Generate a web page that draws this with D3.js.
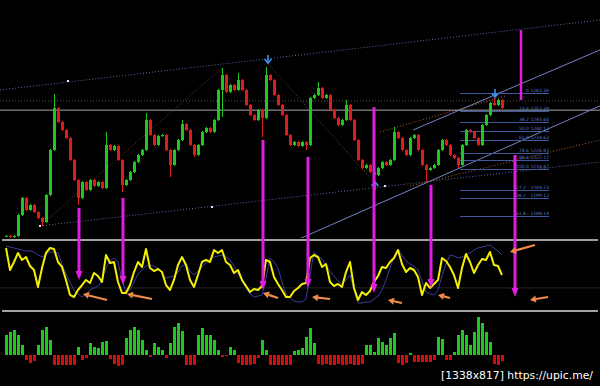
<!DOCTYPE html>
<html>
<head>
<meta charset="UTF-8">
<style>
  body { margin: 0; background: #000; }
  svg { display: block; background: #000; }
  .fib text { font: 4.5px "DejaVu Sans", sans-serif; fill: #5a78c8; }
  .mark { font: 11px "DejaVu Sans", sans-serif; fill: #fff; }
</style>
</head>
<body>
<svg></svg>
<script src="https://d3js.org/d3.v7.min.js"></script>
<script>

let width = 600, height = 386;

// closing price of every bar (open = previous close)
const closes = [
  1175.7, 1175.1, 1175.7, 1188.6, 1199.1, 1191.7, 1194.8, 1190.5, 1186.8, 1184.3,
  1200.9, 1228.6, 1254.4, 1245.8, 1240.8, 1235.9, 1222.4, 1210.1, 1199.1, 1208.9,
  1204.0, 1210.1, 1206.4, 1208.9, 1205.2, 1231.6, 1228.6, 1231.0, 1222.4, 1207.1,
  1210.1, 1215.0, 1221.2, 1225.5, 1228.6, 1247.0, 1237.8, 1231.6, 1237.2, 1237.8,
  1228.6, 1219.3, 1228.6, 1234.7, 1244.5, 1240.8, 1231.6, 1225.5, 1231.6, 1239.6,
  1242.1, 1239.6, 1247.0, 1265.4, 1274.6, 1264.2, 1268.5, 1265.4, 1271.6, 1265.4,
  1256.2, 1250.1, 1247.0, 1253.1, 1248.2, 1274.6, 1271.6, 1262.3, 1256.2, 1250.1,
  1237.8, 1231.6, 1233.5, 1231.0, 1233.5, 1231.6, 1260.5, 1262.3, 1266.6, 1260.5,
  1262.3, 1253.1, 1248.2, 1243.9, 1247.0, 1256.2, 1247.0, 1234.7, 1222.4, 1217.5,
  1219.3, 1215.0, 1213.2, 1217.5, 1221.2, 1219.3, 1222.4, 1239.6, 1235.9, 1228.6,
  1225.5, 1235.9, 1237.8, 1228.6, 1219.3, 1216.3, 1217.5, 1219.3, 1228.6, 1234.7,
  1231.6, 1225.5, 1223.6, 1219.3, 1231.6, 1240.8, 1239.6, 1235.9, 1231.6, 1243.9,
  1250.1, 1257.4, 1256.2, 1259.3, 1254.4
];

// bars with a long shadow: [bar, price]
const longWicks = [
  [9, 1181.9], [12, 1263.0], [18, 1194.8], [25, 1239.6], [29, 1202.8], [35, 1251.3],
  [41, 1212.0], [44, 1247.0], [47, 1224.3], [54, 1278.9], [54, 1248.8], [58, 1275.9],
  [64, 1236.5], [65, 1279.5], [75, 1228.6], [78, 1270.3], [85, 1259.3], [92, 1210.1],
  [97, 1242.7], [105, 1208.9], [113, 1217.5], [122, 1260.5]
];

// oscillator (0..100), main and signal
const oscMain = [
  90.0, 58.6, 70.0, 82.9, 72.9, 77.1, 64.3, 58.6, 34.3, 61.4,
  82.9, 90.0, 88.6, 70.0, 62.9, 44.3, 22.9, 20.0, 30.0, 37.1,
  44.3, 40.0, 54.3, 50.0, 41.4, 80.0, 68.6, 70.0, 41.4, 25.7,
  25.7, 37.1, 55.7, 70.0, 62.9, 88.6, 61.4, 57.1, 60.0, 55.7,
  37.1, 30.0, 44.3, 65.7, 77.1, 65.7, 44.3, 34.3, 51.4, 70.0,
  72.9, 70.0, 87.1, 82.9, 87.1, 70.0, 65.7, 54.3, 58.6, 44.3,
  35.7, 27.1, 31.4, 30.0, 35.7, 72.9, 70.0, 48.6, 38.6, 30.0,
  20.0, 20.0, 28.6, 32.9, 38.6, 40.0, 75.7, 80.0, 77.1, 62.9,
  67.1, 41.4, 35.7, 38.6, 34.3, 55.7, 70.0, 32.9, 15.7, 27.1,
  22.9, 28.6, 41.4, 50.0, 62.9, 61.4, 70.0, 75.7, 87.1, 67.1,
  55.7, 61.4, 58.6, 48.6, 22.9, 40.0, 32.9, 38.6, 44.3, 75.7,
  71.4, 62.9, 51.4, 32.9, 61.4, 81.4, 70.0, 54.3, 65.7, 74.3,
  72.9, 84.3, 65.7, 64.3, 51.4
];
const oscSignal = [
  92.9, 91.4, 90.0, 88.6, 87.1, 85.7, 85.7, 84.3, 80.0, 77.1,
  80.0, 84.3, 84.3, 82.9, 67.1, 52.9, 41.4, 30.0, 24.3, 20.0,
  24.3, 30.0, 32.9, 35.7, 44.3, 61.4, 71.4, 75.7, 70.0, 44.3,
  27.1, 30.0, 41.4, 52.9, 58.6, 64.3, 65.7, 64.3, 61.4, 54.3,
  47.1, 48.6, 50.0, 55.7, 64.3, 67.1, 57.1, 51.4, 57.1, 62.9,
  68.6, 74.3, 77.1, 78.6, 80.0, 77.1, 72.9, 64.3, 54.3, 42.9,
  32.9, 24.3, 20.0, 21.4, 22.9, 47.1, 75.7, 70.0, 61.4, 41.4,
  24.3, 18.6, 14.3, 12.9, 12.9, 17.1, 51.4, 84.3, 78.6, 74.3,
  65.7, 57.1, 50.0, 42.9, 38.6, 44.3, 51.4, 30.0, 11.4, 11.4,
  12.9, 12.9, 17.1, 21.4, 30.0, 44.3, 61.4, 77.1, 88.6, 80.0,
  71.4, 67.1, 64.3, 58.6, 42.9, 27.1, 24.3, 22.9, 30.0, 50.0,
  67.1, 80.0, 78.6, 75.7, 77.1, 80.0, 82.9, 87.1, 90.0, 91.4,
  92.9, 94.3, 90.0, 85.7, 80.0
];
const oscLevel = 33;

// histogram
const hist = [
  2.0, 2.3, 2.5, 2.0, 1.0, -0.5, -0.8, -0.6, 1.0, 2.5,
  2.8, 1.5, -1.0, -1.0, -1.0, -1.0, -1.0, -1.0, 0.8, -0.5,
  -0.3, 1.2, 0.8, 0.7, 1.3, 1.4, -0.4, -0.9, -1.1, -1.0,
  1.7, 2.5, 2.8, 2.5, 1.5, 0.5, -0.2, 1.2, 0.8, 0.5,
  -0.3, 1.2, 2.8, 3.2, 2.4, -1.0, -1.0, -1.0, 2.0, 2.7,
  2.0, 2.0, 1.5, 0.5, -0.2, -0.1, 0.8, 0.5, -0.8, -1.0,
  -1.0, -1.0, -0.9, -0.3, 1.5, 0.5, -1.0, -1.0, -1.0, -1.0,
  -1.0, -1.0, 0.4, 0.5, 0.7, 1.8, 2.7, 1.2, -0.9, -1.0,
  -0.9, -1.0, -1.0, -0.9, -1.0, -1.0, -0.9, -1.0, -1.0, -0.9,
  1.0, 1.0, 0.3, 1.7, 1.3, 1.0, 1.7, 2.2, -0.8, -1.0,
  -0.8, 0.2, -0.7, -0.7, -0.7, -0.7, -0.7, -0.5, 1.8, 1.6,
  -0.5, -0.5, 0.3, 2.0, 2.5, 2.0, 1.0, 2.3, 3.8, 3.2,
  2.3, 1.3, -0.9, -1.0, -0.6
];

// fibonacci retracement
const fibLevels = [0, 23.6, 38.2, 50.0, 61.8, 78.6, 88.6, 100.0, 127.2, 138.2, 161.8];
const fibPrices = [1263.36, 1252.39, 1245.60, 1240.12, 1234.63, 1226.82, 1222.17, 1216.87, 1204.23, 1199.12, 1188.14];
const fibSpan = [113.5, 135.75];

// drawn objects, [bar, price]
const channelTop = [[-1.5, 1265.4], [148.5, 1308.4]];
const channelBottom = [[8.5, 1181.9], [148.5, 1221.2]];
const zigzagA = [[8.5, 1181.9], [54, 1278.9]];
const zigzagB = [[65.5, 1281.4], [92, 1208.9]];
const orangeTop = [[93.5, 1239.6], [124.75, 1261.7]];
const orangeBottom = [[101, 1206.4], [148.5, 1234.7]];
const blueTop = [[101.75, 1240.8], [148.5, 1290.0]];
const blueBottom = [[72.75, 1173.3], [148.5, 1255.6]];
const whiteDots = [[15.5, 1270.9], [8.5, 1181.9], [51.5, 1193.5], [94.75, 1206.4]];
const bidPrice = 1253.0;
const dottedPrice = 1258.6;

// signal arrows
const blueArrows = [[65.5, 1282.0, "down"], [92.25, 1208.9, "up"], [122.25, 1261.1, "down"]];
const magentaBars = [18.25, 29.25, 64.25, 75.5, 92, 106.25, 127.25];
const magentaFrom = [1193.0, 1199.1, 1234.7, 1224.3, 1254.9, 1207.1, 1225.5];
const magentaTo = [44.3, 37.1, 30.0, 32.9, 25.7, 32.9, 20.0];
const magentaTop = [128.75, 1302.2, 1259.2];
const orangeTail = [[25.25, 15.7], [36.5, 17.1], [68, 18.6], [81, 17.1], [99, 11.4], [111, 18.6], [132.25, 94.3], [135.5, 20.0]];
const orangeHead = [[19.25, 24.3], [30.25, 24.3], [64.25, 25.7], [76.5, 20.0], [95.5, 15.7], [108, 22.9], [126, 84.3], [131, 15.7]];

let svg = d3.select("svg")
  .attr("width", width)
  .attr("height", height);

let x = d3.scaleLinear().domain([0, closes.length - 1]).range([6, 502]);
let y = d3.scaleLinear().domain([fibPrices[7], fibPrices[0]]).range([169, 93.3]);
let yo = d3.scaleLinear().domain([0, 100]).range([311, 241]);
let yh = d3.scaleLinear().domain([-1.2, 3.6]).range([367, 319]);

svg.append("defs").append("clipPath").attr("id", "pclip")
  .append("rect").attr("x", 0).attr("y", 0).attr("width", width).attr("height", 238);

let price = svg.append("g").attr("clip-path", "url(#pclip)");

// horizontal levels
price.append("line")
  .attr("x1", 0).attr("x2", width)
  .attr("y1", y(dottedPrice)).attr("y2", y(dottedPrice))
  .attr("stroke", "#5a5a5a").attr("stroke-dasharray", "1,2");
price.append("line")
  .attr("x1", 0).attr("x2", width)
  .attr("y1", y(bidPrice)).attr("y2", y(bidPrice))
  .attr("stroke", "#a8a8a8").attr("stroke-width", 1);

function seg(pts, color, dash, w) {
  price.append("line")
    .attr("x1", x(pts[0][0])).attr("y1", y(pts[0][1]))
    .attr("x2", x(pts[1][0])).attr("y2", y(pts[1][1]))
    .attr("stroke", color)
    .attr("stroke-width", w || 1)
    .attr("stroke-dasharray", dash);
}
seg(channelTop, "#5c6aa8", "1,2");
seg(channelBottom, "#5c6aa8", "1,2");
seg(zigzagA, "#6e4a2e", "1,2");
seg(zigzagB, "#6e4a2e", "1,2");
seg(orangeTop, "#b8642a", "1,2");
seg(orangeBottom, "#b8642a", "1,2");
seg(blueTop, "#7482c4", null);
seg(blueBottom, "#7482c4", null);

// fibonacci
let fib = price.append("g").attr("class", "fib");
fib.selectAll("line")
  .data(fibPrices)
  .enter().append("line")
  .attr("x1", x(fibSpan[0])).attr("x2", x(fibSpan[1]))
  .attr("y1", d => Math.round(y(d)) + 0.5).attr("y2", d => Math.round(y(d)) + 0.5)
  .attr("stroke", "#3f5a9c");
fib.selectAll("text")
  .data(fibPrices)
  .enter().append("text")
  .attr("x", x(fibSpan[1]))
  .attr("y", d => Math.round(y(d)) - 1)
  .attr("text-anchor", "end")
  .text((d, i) => fibLevels[i] > 100
    ? fibLevels[i].toFixed(1) + " - " + d.toFixed(2)
    : (fibLevels[i] === 0 ? "0" : fibLevels[i].toFixed(1)) + "  " + d.toFixed(2));

// candles
let candles = closes.map((c, i) => {
  let o = i ? closes[i - 1] : c;
  let hi = Math.max(o, c) + 0.8, lo = Math.min(o, c) - 0.8;
  longWicks.filter(w => w[0] === i).forEach(w => {
    if (w[1] > hi) hi = w[1];
    if (w[1] < lo) lo = w[1];
  });
  return { i: i, o: o, c: c, hi: hi, lo: lo, up: c >= o };
});

let cg = price.append("g").attr("shape-rendering", "crispEdges");
cg.selectAll("line")
  .data(candles)
  .enter().append("line")
  .attr("x1", d => Math.round(x(d.i)) + 0.5).attr("x2", d => Math.round(x(d.i)) + 0.5)
  .attr("y1", d => y(d.hi)).attr("y2", d => y(d.lo))
  .attr("stroke", d => d.up ? "#22c622" : "#dc1e1e");
cg.selectAll("rect")
  .data(candles)
  .enter().append("rect")
  .attr("x", d => Math.round(x(d.i)) - 1)
  .attr("width", 3)
  .attr("y", d => y(Math.max(d.o, d.c)))
  .attr("height", d => Math.max(1, Math.abs(y(d.o) - y(d.c))))
  .attr("fill", d => d.up ? "#22c622" : "#dc1e1e");

// white anchor dots
price.selectAll(".dot")
  .data(whiteDots)
  .enter().append("rect")
  .attr("class", "dot")
  .attr("x", d => x(d[0]) - 1).attr("y", d => y(d[1]) - 1)
  .attr("width", 2).attr("height", 2)
  .attr("fill", "#e8e8e8");

// blue fractal arrows
price.selectAll(".barrow")
  .data(blueArrows)
  .enter().append("path")
  .attr("class", "barrow")
  .attr("d", d => {
    let px = x(d[0]), py = y(d[1]), s = d[2] === "down" ? -1 : 1;
    return "M" + (px - 3.5) + "," + (py + s * 4) + "L" + px + "," + py + "L" + (px + 3.5) + "," + (py + s * 4) +
      "M" + px + "," + py + "L" + px + "," + (py + s * 8);
  })
  .attr("fill", "none")
  .attr("stroke", "#3b93ea")
  .attr("stroke-width", 1.6);

// panel separators
[yo(100) - 1, yo(0)].forEach(v => {
  svg.append("line")
    .attr("x1", 2).attr("x2", width - 2)
    .attr("y1", v).attr("y2", v)
    .attr("stroke", "#a0a0a0").attr("stroke-width", 2);
});

// oscillator
svg.append("line")
  .attr("x1", 0).attr("x2", width)
  .attr("y1", yo(oscLevel)).attr("y2", yo(oscLevel))
  .attr("stroke", "#262626");

let oscLine = d3.line().x((d, i) => x(i)).y(d => yo(d));
svg.append("path")
  .attr("d", oscLine(oscSignal))
  .attr("fill", "none")
  .attr("stroke", "#3c3c9c")
  .attr("stroke-width", 1);
svg.append("path")
  .attr("d", oscLine(oscMain))
  .attr("fill", "none")
  .attr("stroke", "#f5f000")
  .attr("stroke-width", 2)
  .attr("stroke-linejoin", "round");

// histogram
svg.append("g").attr("shape-rendering", "crispEdges")
  .selectAll("rect")
  .data(hist)
  .enter().append("rect")
  .attr("x", (d, i) => Math.round(x(i)) - 1)
  .attr("width", 3)
  .attr("y", d => d > 0 ? yh(d) : yh(0))
  .attr("height", d => Math.abs(yh(d) - yh(0)))
  .attr("fill", d => d > 0 ? "#1ec81e" : "#d40c0c");

// magenta arrows
let mg = svg.append("g");
mg.append("line")
  .attr("x1", x(magentaTop[0])).attr("x2", x(magentaTop[0]))
  .attr("y1", y(magentaTop[1])).attr("y2", y(magentaTop[2]))
  .attr("stroke", "#e01ee0").attr("stroke-width", 2.5);
magentaBars.forEach((b, i) => {
  let px = x(b), tip = yo(magentaTo[i]);
  mg.append("line")
    .attr("x1", px).attr("x2", px)
    .attr("y1", y(magentaFrom[i])).attr("y2", tip - 6)
    .attr("stroke", "#e01ee0").attr("stroke-width", 3);
  mg.append("path")
    .attr("d", "M" + (px - 3.5) + "," + (tip - 9) + "L" + (px + 3.5) + "," + (tip - 9) + "L" + px + "," + tip + "Z")
    .attr("fill", "#e01ee0");
});

// orange arrows
let og = svg.append("g");
orangeTail.forEach((t, i) => {
  let h = orangeHead[i];
  let x0 = x(t[0]), y0 = yo(t[1]), x1 = x(h[0]), y1 = yo(h[1]);
  let a = Math.atan2(y1 - y0, x1 - x0);
  let bx = x1 - 6 * Math.cos(a), by = y1 - 6 * Math.sin(a);
  og.append("line")
    .attr("x1", x0).attr("y1", y0).attr("x2", bx).attr("y2", by)
    .attr("stroke", "#f08a4a").attr("stroke-width", 2.2);
  og.append("path")
    .attr("d", "M" + x1 + "," + y1 +
      "L" + (bx + 3.5 * Math.sin(a)) + "," + (by - 3.5 * Math.cos(a)) +
      "L" + (bx - 3.5 * Math.sin(a)) + "," + (by + 3.5 * Math.cos(a)) + "Z")
    .attr("fill", "#f08a4a");
});

// watermark
svg.append("text")
  .attr("class", "mark")
  .attr("x", 441).attr("y", 379)
  .attr("textLength", 152)
  .attr("lengthAdjust", "spacingAndGlyphs")
  .text("[1338x817] https://upic.me/");

</script>
</body>
</html>
